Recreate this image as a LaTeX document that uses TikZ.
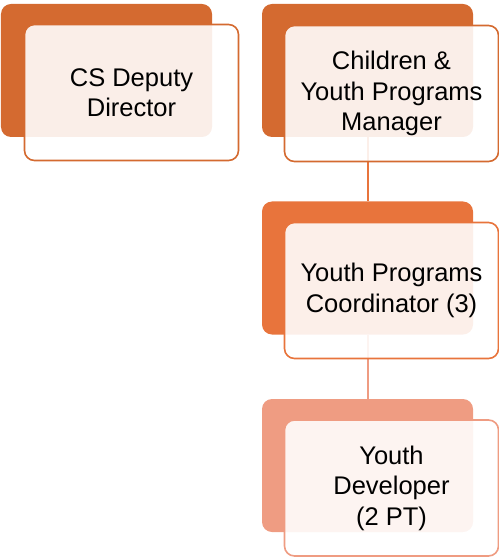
\documentclass[tikz,border=0pt]{standalone}
\usepackage{fontspec}
\setmainfont{Liberation Sans}
\definecolor{cA}{HTML}{D46A30}
\definecolor{cB}{HTML}{E8743C}
\definecolor{cC}{HTML}{EF9C82}
\begin{document}
\begin{tikzpicture}[x=1bp,y=-1bp,
  backbox/.style={rectangle, rounded corners=10bp, inner sep=0pt, minimum width=211bp, minimum height=133bp, fill=#1},
  frontbox/.style={rectangle, rounded corners=10bp, inner sep=0pt, minimum width=214bp, minimum height=136bp, fill=white, fill opacity=0.89, text opacity=1, draw=#1, line width=1.6bp, align=center, font=\fontsize{25.5bp}{30.5bp}\selectfont},
  link/.style={draw=#1, line width=2bp}]
\useasboundingbox (0,0) rectangle (499,558);
\node[backbox=cA] (b1) at (106.5,70.5) {};
\node[backbox=cA] (b2) at (367.5,70.5) {};
\node[backbox=cB] (b3) at (367.5,268) {};
\node[backbox=cC] (b4) at (367.5,465.5) {};
\draw[link=cB] (b2.south) -- (b3.north);
\draw[link=cC] (b3.south) -- (b4.north);
\node[frontbox=cA] (f1) at (131.5,92.5) {CS Deputy\\Director};
\node[frontbox=cA] (f2) at (391.5,93.5) {Children \&\\Youth Programs\\Manager};
\node[frontbox=cB] (f3) at (391.5,290.5) {Youth Programs\\Coordinator (3)};
\node[frontbox=cC] (f4) at (391.5,488) {Youth\\Developer\\(2 PT)};
\end{tikzpicture}
\end{document}
